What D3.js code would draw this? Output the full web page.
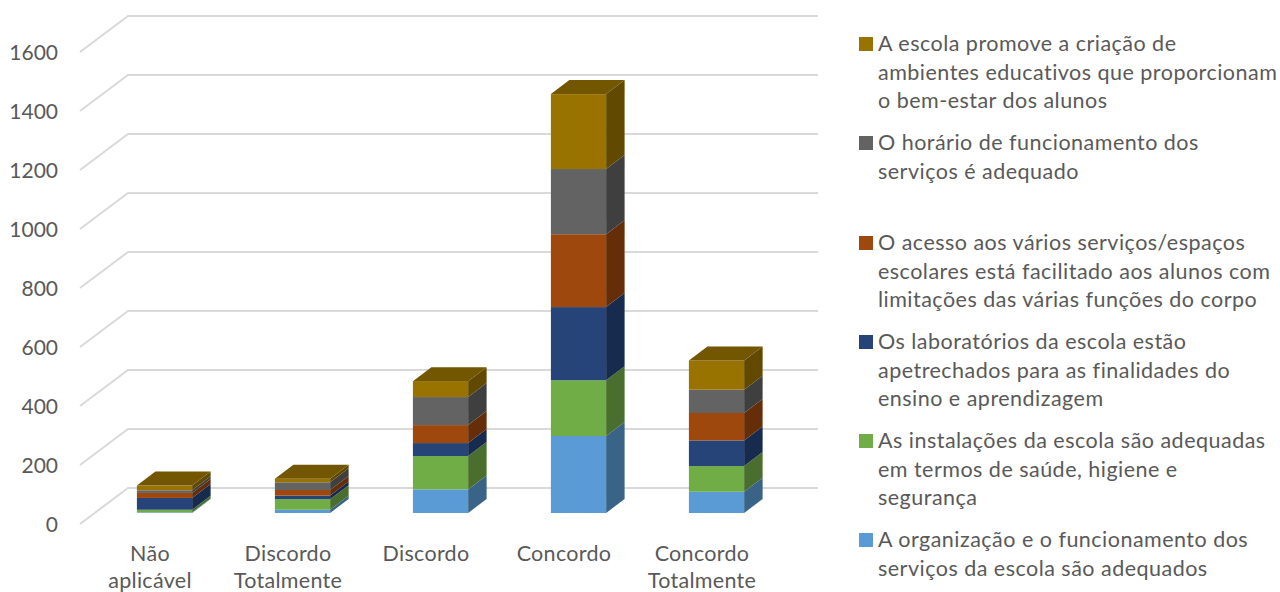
<!DOCTYPE html>
<html lang="pt">
<head>
<meta charset="utf-8">
<script src="https://cdnjs.cloudflare.com/ajax/libs/d3/7.8.5/d3.min.js"></script>
<style>
  html, body { margin: 0; padding: 0; background: #fff; overflow: hidden; }
  svg { display: block; }
  text { font-family: Lato, "Noto Sans", sans-serif; fill: #595959; }
</style>
</head>
<body>
<svg id="chart" width="1280" height="592"></svg>
<script>
// Survey answers, one entry per response category
const categories = ["Não aplicável", "Discordo Totalmente", "Discordo", "Concordo", "Concordo Totalmente"];
const categoryLines = [["Não", "aplicável"], ["Discordo", "Totalmente"], ["Discordo"], ["Concordo"], ["Concordo", "Totalmente"]];

// Stacked series, bottom to top
const organizacao = [2, 11, 80, 261, 72];
const instalacoes = [9, 36, 113, 189, 87];
const laboratorios = [40, 12, 44, 248, 87];
const acesso = [17, 19, 61, 247, 93];
const horario = [9, 26, 95, 221, 79];
const ambientes = [16, 12, 54, 254, 99];

const seriesKeys = ["organizacao", "instalacoes", "laboratorios", "acesso", "horario", "ambientes"];
const seriesValues = [organizacao, instalacoes, laboratorios, acesso, horario, ambientes];
const frontColors = ["#5b9bd5", "#70ad47", "#264478", "#9e480e", "#636363", "#997300"];
const sideColors = ["#3a6487", "#4a6e2d", "#172b4f", "#652e09", "#3f3f3f", "#614a00"];
const topColor = "#725600";

const yTicks = [0, 200, 400, 600, 800, 1000, 1200, 1400, 1600];

// Legend entries, top to bottom, with their vertical centres
const legendLines = [
  ["A escola promove a criação de", "ambientes educativos que proporcionam", "o bem-estar dos alunos"],
  ["O horário de funcionamento dos", "serviços é adequado"],
  ["O acesso aos vários serviços/espaços", "escolares está facilitado aos alunos com", "limitações das várias funções do corpo"],
  ["Os laboratórios da escola estão", "apetrechados para as finalidades do", "ensino e aprendizagem"],
  ["As instalações da escola são adequadas", "em termos de saúde, higiene e", "segurança"],
  ["A organização e o funcionamento dos", "serviços da escola são adequados"]
];
const legendTops = [44, 143, 243, 342, 441, 540];
const legendColors = ["#997300", "#636363", "#9e480e", "#264478", "#70ad47", "#5b9bd5"];

const svg = d3.select("#chart");

// Oblique projection: bars sit in the middle of the floor between front edge and back wall
const barDepth = { dx: 18.5, dy: -14 };
const wall = { left: 128, right: 818, dx: -48, frontDrop: 11, backRise: 25 };

const x = d3.scaleBand().domain(categories).range([95.5, 785.5]).paddingInner(0.6).paddingOuter(0.3);
const y = d3.scaleLinear().domain([0, 1600]).range([513, 41]);

// Gridlines run along the side floor edge, then across the back wall
const gridG = svg.append("g");
gridG.selectAll("polyline").data(yTicks).join("polyline")
  .attr("points", d => {
    const front = y(d) + wall.frontDrop, back = y(d) - wall.backRise;
    return `${wall.left + wall.dx},${front} ${wall.left},${back} ${wall.right},${back}`;
  })
  .attr("fill", "none")
  .attr("stroke", "#d9d9d9")
  .attr("stroke-width", 2);

// Value axis labels
svg.append("g").selectAll("text").data(yTicks).join("text")
  .attr("x", 58)
  .attr("y", d => y(d) + wall.frontDrop + 3)
  .attr("text-anchor", "end")
  .attr("dominant-baseline", "middle")
  .attr("font-size", 21)
  .text(d => d);

// Stacked prisms
const rows = categories.map((c, i) => {
  const row = { category: c };
  seriesKeys.forEach((k, s) => { row[k] = seriesValues[s][i]; });
  return row;
});
const stacked = d3.stack().keys(seriesKeys)(rows);

const barG = svg.append("g");
stacked.forEach((layer, s) => {
  const g = barG.append("g");
  // Side face
  g.selectAll("polygon").data(layer).join("polygon")
    .attr("points", d => {
      const r = x(d.data.category) + x.bandwidth();
      const y0 = y(d[0]), y1 = y(d[1]);
      return `${r},${y0} ${r + barDepth.dx},${y0 + barDepth.dy} ${r + barDepth.dx},${y1 + barDepth.dy} ${r},${y1}`;
    })
    .attr("fill", sideColors[s]);
  // Front face
  g.selectAll("rect").data(layer).join("rect")
    .attr("x", d => x(d.data.category))
    .attr("y", d => y(d[1]))
    .attr("width", x.bandwidth())
    .attr("height", d => y(d[0]) - y(d[1]))
    .attr("fill", frontColors[s]);
});

// Lid on the top series
barG.append("g").selectAll("polygon")
  .data(stacked[stacked.length - 1]).join("polygon")
  .attr("points", d => {
    const l = x(d.data.category), r = l + x.bandwidth(), t = y(d[1]);
    return `${l},${t} ${r},${t} ${r + barDepth.dx},${t + barDepth.dy} ${l + barDepth.dx},${t + barDepth.dy}`;
  })
  .attr("fill", topColor);

// Category labels, shifted toward the front edge of the floor
const catG = svg.append("g").selectAll("text").data(categories).join("text")
  .attr("x", d => x(d) + x.bandwidth() / 2 - 14.5)
  .attr("y", 561)
  .attr("text-anchor", "middle")
  .attr("font-size", 21.5)
  .attr("letter-spacing", 0.3);
catG.selectAll("tspan").data((d, i) => categoryLines[i]).join("tspan")
  .attr("x", function () { return d3.select(this.parentNode).attr("x"); })
  .attr("dy", (d, i) => i ? 26.5 : 0)
  .text(d => d);

// Legend
const legend = svg.append("g").selectAll("g").data(legendLines).join("g")
  .attr("transform", (d, i) => `translate(859,${legendTops[i]})`);
legend.append("rect")
  .attr("y", -7).attr("width", 14).attr("height", 14)
  .attr("fill", (d, i) => legendColors[i]);
legend.append("text")
  .attr("font-size", 21.5)
  .attr("letter-spacing", 0.48)
  .selectAll("tspan").data(d => d).join("tspan")
  .attr("x", 19)
  .attr("y", (d, i) => 7 + i * 28.6)
  .text(d => d);
</script>
</body>
</html>
